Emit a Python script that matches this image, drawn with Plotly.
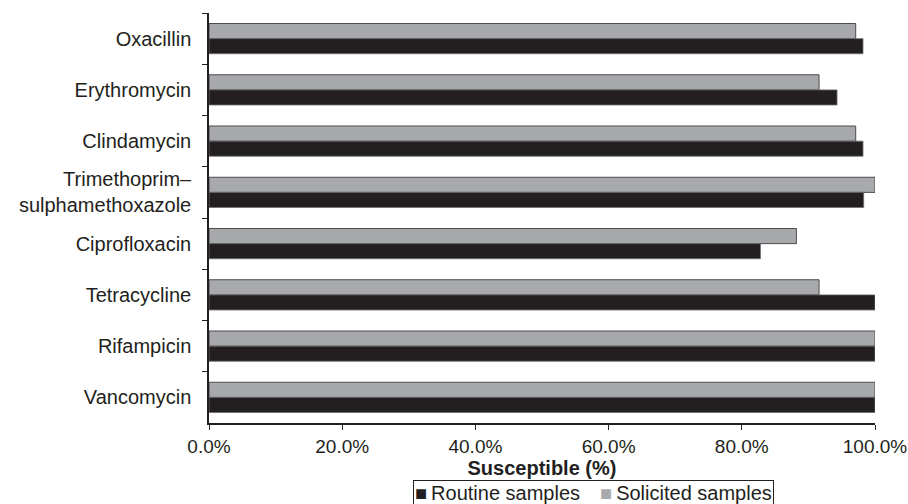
import plotly.graph_objects as go

# Antibiotic susceptibility, percent of isolates
antibiotics = [
    "Oxacillin",
    "Erythromycin",
    "Clindamycin",
    "Trimethoprim–<br>sulphamethoxazole",
    "Ciprofloxacin",
    "Tetracycline",
    "Rifampicin",
    "Vancomycin",
]
routine_pct = [98.2, 94.3, 98.2, 98.3, 82.8, 100.0, 100.0, 100.0]
solicited_pct = [97.1, 91.6, 97.1, 100.0, 88.2, 91.6, 100.0, 100.0]
x_ticks = [0, 20, 40, 60, 80, 100]

FONT = "Liberation Sans, Arial, sans-serif"
INK = "#231f20"
GREY = "#a7a9ac"
EMSP = "\u2003"
THIN = "\u2009"

fig = go.Figure()
fig.add_trace(go.Bar(
    name="Solicited samples",
    y=antibiotics,
    x=solicited_pct,
    orientation="h",
    marker=dict(color=GREY, line=dict(color="#4d4d4f", width=1)),
))
fig.add_trace(go.Bar(
    name="Routine samples",
    y=antibiotics,
    x=routine_pct,
    orientation="h",
    marker=dict(color=INK, line=dict(color="#6d6e71", width=0.8)),
))

# Compact boxed key below the axis title
key_items = [(INK, "Routine samples"), (GREY, "Solicited samples")]
key_text = EMSP.join(
    f"<span style='color:{c}'>■</span>{THIN}{label}" for c, label in key_items
)

fig.update_layout(
    width=908,
    height=504,
    margin=dict(l=209, r=33, t=13, b=81, autoexpand=False),
    plot_bgcolor="white",
    paper_bgcolor="white",
    barmode="group",
    bargap=0.41,
    bargroupgap=0,
    font=dict(family=FONT, size=20, color=INK),
    showlegend=False,
    annotations=[dict(
        text=key_text,
        xref="paper",
        yref="paper",
        x=(413 - 209) / (875 - 209),
        xanchor="left",
        y=(423 - 480) / 410,
        yanchor="top",
        showarrow=False,
        bordercolor=INK,
        borderwidth=1,
        borderpad=1,
        font=dict(family=FONT, size=20, color=INK),
    )],
)

fig.update_xaxes(
    range=[0, 100],
    tickvals=x_ticks,
    ticktext=[f"{v:.1f}%" for v in x_ticks],
    ticks="outside",
    ticklen=5,
    tickcolor=INK,
    showline=True,
    linecolor=INK,
    linewidth=1.5,
    showgrid=False,
    zeroline=False,
    tickfont=dict(family=FONT, size=19, color=INK),
    title=dict(
        text="<b>Susceptible (%)</b>",
        font=dict(family=FONT, size=20, color=INK),
        standoff=1,
    ),
)

fig.update_yaxes(
    autorange="reversed",
    ticks="outside",
    tickson="boundaries",
    ticklen=5,
    tickcolor=INK,
    showline=True,
    linecolor=INK,
    linewidth=1.5,
    showgrid=False,
    tickfont=dict(family=FONT, size=20, color=INK),
    ticklabelstandoff=12,
)

fig.write_html("out.html")
